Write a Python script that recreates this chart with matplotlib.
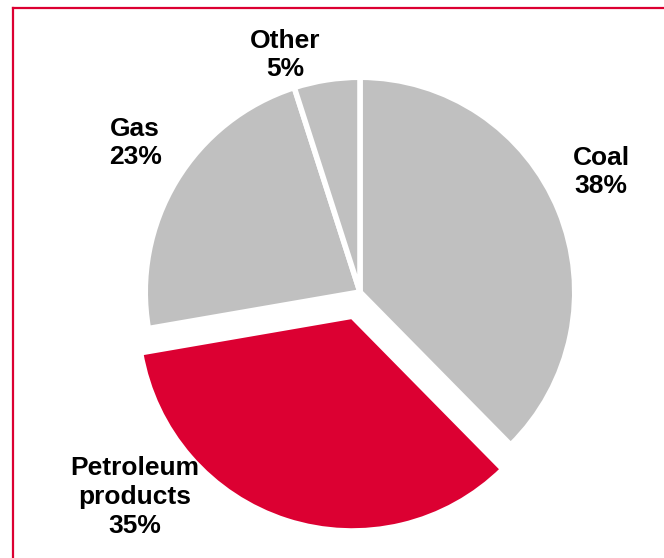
import matplotlib
matplotlib.use("Agg")
import matplotlib.pyplot as plt
from matplotlib.lines import Line2D

plt.rcParams['font.family'] = ['Liberation Sans', 'DejaVu Sans']

labels = ['Coal', 'Petroleum\nproducts', 'Gas', 'Other']
shares = [38, 35, 23, 5]
colors = ['#C0C0C0', '#DC0032', '#C0C0C0', '#C0C0C0']
explode = [0, 0.12, 0, 0]

# label anchor points in data units (pie radius ~1)
label_pos = [(1.137, 0.566), (-1.061, -0.967), (-1.061, 0.703), (-0.354, 1.118)]

W, H = 664, 558
cx, cy, scale = 360, 292, 212  # pie centre in pixels, pixels per unit

fig = plt.figure(figsize=(W / 100, H / 100), dpi=100)
ax = fig.add_axes([0, 0, 1, 1])

ax.pie(shares, colors=colors, explode=explode, startangle=90,
       counterclock=False, radius=1.013,
       wedgeprops=dict(edgecolor='white', linewidth=4))

for lab, val, (x, y) in zip(labels, shares, label_pos):
    ax.text(x, y, f"{lab}\n{val}%", ha='center', va='center',
            fontsize=19, fontweight='bold', linespacing=1.25)

ax.set_xlim(-cx / scale, (W - cx) / scale)
ax.set_ylim(-(H - cy) / scale, cy / scale)
ax.set_aspect('auto')
ax.axis('off')

# frame line along top and left
red = '#DC0032'
x0 = 13 / W
y0 = 1 - 8 / H
fig.add_artist(Line2D([x0, x0], [0, y0], color=red, lw=1.6, transform=fig.transFigure))
fig.add_artist(Line2D([x0, 1], [y0, y0], color=red, lw=1.6, transform=fig.transFigure))

fig.savefig("out.png", dpi=100)
